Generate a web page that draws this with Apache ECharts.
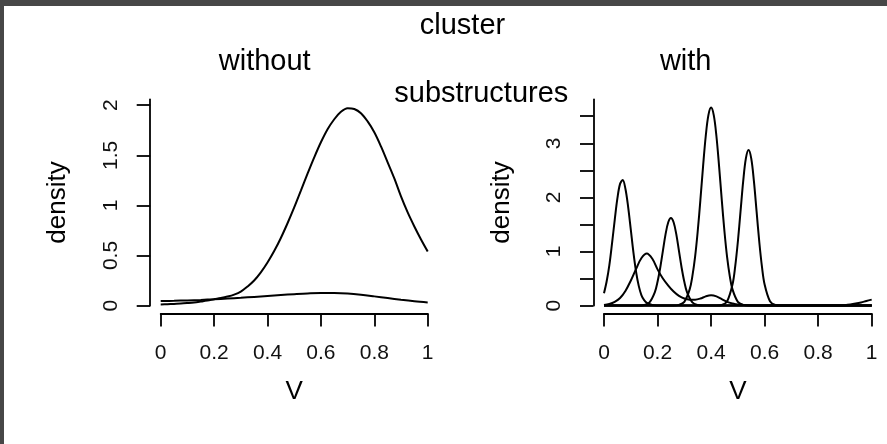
<!DOCTYPE html>
<html>
<head>
<meta charset="utf-8">
<script src="https://cdn.jsdelivr.net/npm/echarts@6/dist/echarts.min.js"></script>
<style>
  html, body { margin: 0; padding: 0; background: #fff; }
  #chart { width: 887px; height: 444px; }
</style>
</head>
<body>
<div id="chart"></div>
<script>
// ---------- data ----------
// Left panel: "without" substructures
const leftMainX = [0, 0.025, 0.05, 0.075, 0.10, 0.125, 0.15, 0.175, 0.20, 0.225, 0.25, 0.275, 0.30, 0.325, 0.35, 0.375, 0.40, 0.425, 0.45, 0.475, 0.50, 0.525, 0.55, 0.575, 0.60, 0.625, 0.65, 0.675, 0.70, 0.725, 0.75, 0.775, 0.80, 0.825, 0.85, 0.875, 0.90, 0.925, 0.95, 0.975, 1.00];
const leftMainY = [0.012, 0.014, 0.017, 0.02, 0.025, 0.031, 0.04, 0.05, 0.063, 0.075, 0.09, 0.11, 0.14, 0.19, 0.25, 0.332, 0.43, 0.544, 0.675, 0.822, 0.98, 1.148, 1.316, 1.479, 1.63, 1.76, 1.86, 1.934, 1.97, 1.962, 1.92, 1.838, 1.73, 1.589, 1.43, 1.27, 1.09, 0.93, 0.79, 0.66, 0.54];
const leftFlatX = [0, 0.05, 0.10, 0.15, 0.20, 0.25, 0.30, 0.35, 0.40, 0.45, 0.50, 0.55, 0.60, 0.65, 0.70, 0.75, 0.80, 0.85, 0.90, 0.95, 1.00];
const leftFlatY = [0.045, 0.048, 0.052, 0.057, 0.063, 0.07, 0.078, 0.087, 0.096, 0.105, 0.114, 0.122, 0.127, 0.126, 0.12, 0.108, 0.092, 0.075, 0.058, 0.043, 0.031];

// Right panel: "with" substructures, one array pair per curve
const xA = [0, 0.01, 0.02, 0.03, 0.04, 0.05, 0.06, 0.07, 0.08, 0.09, 0.10, 0.11, 0.12, 0.13, 0.14, 0.15, 0.16, 0.18, 0.20, 0.25, 1];
const yA = [0.23, 0.45, 0.75, 1.15, 1.58, 1.98, 2.25, 2.32, 2.16, 1.83, 1.41, 0.98, 0.62, 0.36, 0.19, 0.10, 0.05, 0.012, 0.003, 0, 0];

const xB = [0, 0.02, 0.04, 0.06, 0.08, 0.10, 0.12, 0.14, 0.16, 0.18, 0.20, 0.22, 0.24, 0.26, 0.28, 0.30, 0.32, 0.34, 0.36, 0.38, 0.40, 0.42, 0.44, 0.46, 0.48, 0.50, 0.55, 0.60, 1];
const yB = [0.01, 0.03, 0.07, 0.14, 0.27, 0.46, 0.68, 0.88, 0.965, 0.87, 0.67, 0.50, 0.37, 0.26, 0.18, 0.13, 0.11, 0.11, 0.13, 0.17, 0.19, 0.17, 0.12, 0.07, 0.04, 0.02, 0.005, 0, 0];

const xC = [0, 0.13, 0.15, 0.17, 0.19, 0.20, 0.21, 0.22, 0.23, 0.24, 0.25, 0.26, 0.27, 0.28, 0.29, 0.30, 0.31, 0.33, 0.35, 0.37, 1];
const yC = [0, 0, 0.01, 0.06, 0.25, 0.44, 0.70, 1.01, 1.32, 1.54, 1.62, 1.54, 1.32, 1.01, 0.70, 0.44, 0.25, 0.06, 0.01, 0, 0];

const xD = [0, 0.26, 0.28, 0.30, 0.32, 0.33, 0.34, 0.35, 0.36, 0.37, 0.38, 0.39, 0.40, 0.41, 0.42, 0.43, 0.44, 0.45, 0.46, 0.47, 0.48, 0.50, 0.52, 0.54, 1];
const yD = [0, 0, 0.013, 0.07, 0.30, 0.54, 0.89, 1.37, 1.95, 2.57, 3.13, 3.52, 3.66, 3.52, 3.13, 2.57, 1.95, 1.37, 0.89, 0.54, 0.30, 0.07, 0.013, 0, 0];

const xE = [0, 0.42, 0.44, 0.46, 0.48, 0.49, 0.50, 0.51, 0.52, 0.53, 0.54, 0.55, 0.56, 0.57, 0.58, 0.59, 0.60, 0.62, 0.64, 0.66, 1];
const yE = [0, 0, 0.01, 0.08, 0.39, 0.72, 1.18, 1.74, 2.30, 2.72, 2.875, 2.72, 2.30, 1.74, 1.18, 0.72, 0.39, 0.08, 0.01, 0, 0];

const xF = [0, 0.86, 0.88, 0.90, 0.92, 0.94, 0.96, 0.98, 1.00];
const yF = [0, 0, 0.002, 0.008, 0.02, 0.037, 0.058, 0.085, 0.11];

// tick labels
const xTicks = [0, 0.2, 0.4, 0.6, 0.8, 1];
const leftYTicks = [0, 0.5, 1, 1.5, 2];
const leftYLabels = [0, 0.5, 1, 1.5, 2];
const rightYTicks = [0, 0.5, 1, 1.5, 2, 2.5, 3, 3.5];
const rightYLabels = [0, 1, 2, 3];

// texts
const titleTop = 'cluster';
const titleLeft = 'without';
const titleRight = 'with';
const titleBottom = 'substructures';
const xName = 'V';
const yName = 'density';

// ---------- chart ----------
const FONT = '"Liberation Sans", Arial, Helvetica, sans-serif';
const INK = '#000';
const pairs = (xs, ys) => xs.map((x, i) => [x, ys[i]]);

function lineSeries(xs, ys, idx) {
  return {
    type: 'line',
    xAxisIndex: idx, yAxisIndex: idx,
    data: pairs(xs, ys),
    showSymbol: false, symbol: 'none',
    smooth: 0.35,
    clip: false,
    silent: true,
    lineStyle: { color: INK, width: 2 }
  };
}

function xAxisDef(idx) {
  return {
    type: 'value', gridIndex: idx,
    min: 0, max: 1, interval: 0.2,
    position: 'bottom', offset: 8,
    axisLine: { onZero: false, lineStyle: { color: INK, width: 1.8 } },
    axisTick: { length: 13, lineStyle: { color: INK, width: 1.8 }, customValues: xTicks },
    axisLabel: { customValues: xTicks, margin: 29, fontSize: 21, fontFamily: FONT, color: '#111', showMinLabel: true, showMaxLabel: true },
    splitLine: { show: false },
    name: xName, nameLocation: 'middle', nameGap: 65,
    nameTextStyle: { fontSize: 26, fontFamily: FONT, color: INK }
  };
}

function yAxisDef(idx, max, ticks, labels) {
  return {
    type: 'value', gridIndex: idx,
    min: 0, max: max, interval: 0.5,
    position: 'left', offset: 10.5,
    axisLine: { onZero: false, lineStyle: { color: INK, width: 1.8 } },
    axisTick: { length: 13.5, lineStyle: { color: INK, width: 1.8 }, customValues: ticks },
    axisLabel: { customValues: labels, rotate: 90, margin: 28.5, fontSize: 21, fontFamily: FONT, color: '#111' },
    splitLine: { show: false },
    name: yName, nameLocation: 'middle', nameGap: 79, nameRotate: 90,
    nameTextStyle: { fontSize: 26, fontFamily: FONT, color: INK }
  };
}

function textEl(text, x, y) {
  return {
    type: 'text', x: x, y: y, silent: true,
    style: {
      text: text, fill: INK,
      fontSize: 29, fontFamily: FONT,
      align: 'center', verticalAlign: 'middle',
      textAlign: 'center', textVerticalAlign: 'middle'
    }
  };
}

const chart = echarts.init(document.getElementById('chart'), null, { renderer: 'canvas' });
chart.setOption({
  animation: false,
  backgroundColor: '#fff',
  grid: [
    { left: 160.7, top: 99.3, width: 267, height: 206.3 },
    { left: 604, top: 99.3, width: 267.7, height: 206.3 }
  ],
  xAxis: [xAxisDef(0), xAxisDef(1)],
  yAxis: [
    yAxisDef(0, 2.059, leftYTicks, leftYLabels),
    yAxisDef(1, 3.813, rightYTicks, rightYLabels)
  ],
  series: [
    lineSeries(leftMainX, leftMainY, 0),
    lineSeries(leftFlatX, leftFlatY, 0),
    lineSeries(xA, yA, 1),
    lineSeries(xB, yB, 1),
    lineSeries(xC, yC, 1),
    lineSeries(xD, yD, 1),
    lineSeries(xE, yE, 1),
    lineSeries(xF, yF, 1)
  ],
  graphic: [
    { type: 'rect', silent: true, shape: { x: 0, y: 0, width: 887, height: 6 }, style: { fill: '#474747' } },
    { type: 'rect', silent: true, shape: { x: 0, y: 0, width: 4, height: 444 }, style: { fill: '#474747' } },
    textEl(titleTop, 462.5, 25.5),
    textEl(titleLeft, 264.7, 61.5),
    textEl(titleRight, 685.7, 61.5),
    textEl(titleBottom, 481.3, 94)
  ]
});
</script>
</body>
</html>
